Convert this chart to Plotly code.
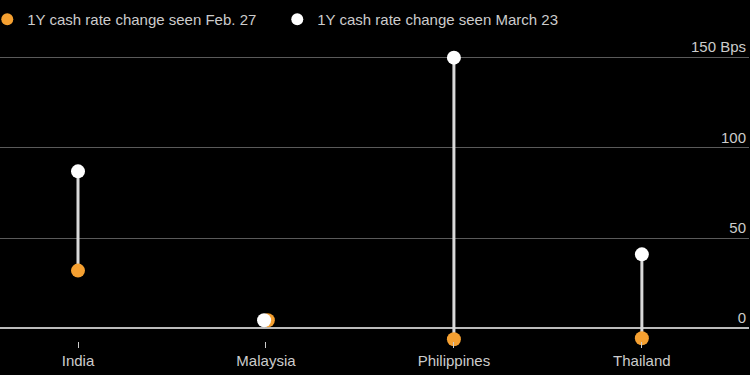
import plotly.graph_objects as go

countries = ["India", "Malaysia", "Philippines", "Thailand"]
feb27 = [32, 4.5, -6, -5.5]
mar23 = [87, 4.5, 150, 41]
y_ticks = [0, 50, 100, 150]
y_tick_labels = ["0", "50", "100", "150 Bps"]

ORANGE = "#F5A031"
WHITE = "#FFFFFF"
xs = list(range(len(countries)))

# small horizontal nudge when two dots coincide so both stay visible
nudge = [0.01 if abs(a - b) < 3 else 0 for a, b in zip(feb27, mar23)]

line_x, line_y = [], []
for i, a, b in zip(xs, feb27, mar23):
    line_x += [i, i, None]
    line_y += [a, b, None]

fig = go.Figure()
fig.add_trace(go.Scatter(x=line_x, y=line_y, mode="lines",
                         line=dict(color="#D9D9D9", width=3),
                         showlegend=False, hoverinfo="skip", cliponaxis=False))
fig.add_trace(go.Scatter(x=[i + n for i, n in zip(xs, nudge)], y=feb27, mode="markers",
                         name="1Y cash rate change seen Feb. 27",
                         marker=dict(color=ORANGE, size=14), cliponaxis=False))
fig.add_trace(go.Scatter(x=[i - n for i, n in zip(xs, nudge)], y=mar23, mode="markers",
                         name="1Y cash rate change seen March 23",
                         marker=dict(color=WHITE, size=14), cliponaxis=False))

fig.update_layout(
    width=750, height=375,
    paper_bgcolor="black", plot_bgcolor="black",
    margin=dict(l=0, r=1, t=36, b=34, autoexpand=False),
    font=dict(family="Arial, Liberation Sans, sans-serif", color="#CCCCCC", size=15),
    legend=dict(orientation="h", x=-0.017, xanchor="left", y=1.0, yref="paper",
                yanchor="bottom", font=dict(size=15, color="#CCCCCC"),
                itemsizing="constant", bgcolor="rgba(0,0,0,0)", traceorder="normal",
                entrywidth=245, entrywidthmode="pixels", tracegroupgap=0),
    showlegend=True,
)
fig.update_xaxes(
    range=[-0.415, 3.57], tickvals=xs, ticktext=countries,
    showgrid=False, zeroline=False, showline=False,
    ticks="outside", ticklen=6, tickcolor="#CCCCCC", tickwidth=1,
    tickfont=dict(size=15, color="#CCCCCC"),
)
fig.update_yaxes(
    range=[-7, 162], tickvals=y_ticks, ticktext=y_tick_labels,
    side="right", ticklabelposition="inside top",
    showgrid=True, gridcolor="#5A5A5A", gridwidth=1,
    zeroline=True, zerolinecolor="#BBBBBB", zerolinewidth=1.5,
    tickfont=dict(size=15, color="#CCCCCC"), showline=False, ticks="",
)
fig.write_html("out.html")
